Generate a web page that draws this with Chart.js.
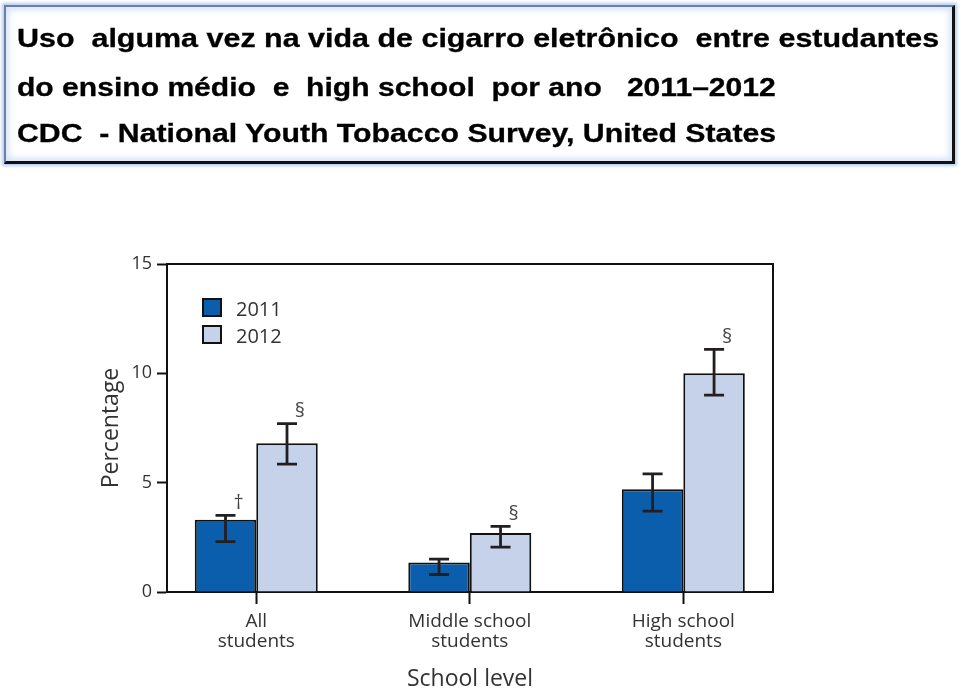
<!DOCTYPE html>
<html><head><meta charset="utf-8">
<script src="https://cdn.jsdelivr.net/npm/chart.js@4"></script>
<style>
html,body{margin:0;padding:0;background:#fff;width:960px;height:696px;overflow:hidden}
#wrap{position:relative;width:960px;height:696px}
#c{position:absolute;left:0;top:0}
#title{position:absolute;left:4px;top:5px;width:951px;height:159px;box-sizing:border-box;border-top:2px solid #6c7fa6;border-left:2px solid #6c7fa6;border-right:3px solid #111;border-bottom:3px solid #111;box-shadow:0 0 3px 2px #b7cdee, inset 0 0 6px 3px #d6e4f8;background:#fff;font-family:"Liberation Sans",Arial,sans-serif;font-weight:bold;font-size:25px;line-height:25px;color:#000;white-space:pre;-webkit-text-stroke:0.3px #000}
.l{position:absolute;left:11px;transform:scaleX(1.21);transform-origin:0 0}
</style>
</head><body>
<div id="wrap">
<canvas id="c" width="960" height="696"></canvas>
<div id="title"><div class="l" style="top:19px;transform:scaleX(1.218)">Uso  alguma vez na vida de cigarro eletrônico  entre estudantes</div><div class="l" style="top:68px;transform:scaleX(1.203)">do ensino médio  e  high school  por ano   2011–2012</div><div class="l" style="top:114px">CDC  - National Youth Tobacco Survey, United States</div></div>
</div>
<script>
const categories = [['All', 'students'], ['Middle school', 'students'], ['High school', 'students']];
const years = ['2011', '2012'];
const values2011 = [3.3, 1.35, 4.7];
const values2012 = [6.8, 2.7, 10.0];
const low2011 = [2.3, 0.8, 3.7];
const high2011 = [3.5, 1.5, 5.4];
const low2012 = [5.85, 2.05, 9.0];
const high2012 = [7.7, 3.0, 11.1];
const marks2011 = ['†', '', ''];
const marks2012 = ['§', '§', '§'];
const yTicks = [0, 5, 10, 15];

const colors = ['#0b5eab', '#c6d1ea'];
const lows = [low2011, low2012];
const highs = [high2011, high2012];
const marks = [marks2011, marks2012];
const TEXT = '#333';
const FONT = '"Open Sans", "Noto Sans", sans-serif';

function pts(vals) { return vals.map((v, i) => ({ x: i + 1, y: v })); }

const errorBars = {
  id: 'errorBars',
  afterDatasetsDraw(chart) {
    const ctx = chart.ctx;
    const ys = chart.scales.y;
    chart.data.datasets.forEach((ds, di) => {
      const meta = chart.getDatasetMeta(di);
      meta.data.forEach((bar, i) => {
        const x = bar.x;
        const yl = ys.getPixelForValue(lows[di][i]);
        const yh = ys.getPixelForValue(highs[di][i]);
        ctx.save();
        ctx.strokeStyle = '#231f20';
        ctx.lineWidth = 2.8;
        ctx.beginPath();
        ctx.moveTo(x, yl); ctx.lineTo(x, yh);
        ctx.moveTo(x - 10, yl); ctx.lineTo(x + 10, yl);
        ctx.moveTo(x - 10, yh); ctx.lineTo(x + 10, yh);
        ctx.stroke();
        const m = marks[di][i];
        if (m) {
          ctx.fillStyle = '#444';
          ctx.font = '20px ' + FONT;
          ctx.textAlign = 'center';
          ctx.textBaseline = 'middle';
          ctx.fillText(m, x + 13, yh - 12);
        }
        ctx.restore();
      });
    });
  }
};

const frame = {
  id: 'frame',
  afterDraw(chart) {
    const { ctx, chartArea: a } = chart;
    ctx.save();
    ctx.strokeStyle = '#111';
    ctx.lineWidth = 2;
    ctx.beginPath();
    ctx.moveTo(a.left, a.top); ctx.lineTo(a.right, a.top); ctx.lineTo(a.right, a.bottom);
    ctx.stroke();
    // legend
    ctx.font = '20px ' + FONT;
    ctx.textBaseline = 'alphabetic';
    ctx.textAlign = 'left';
    chart.data.datasets.forEach((ds, i) => {
      const bx = a.left + 36, by = a.top + 35 + i * 27;
      ctx.fillStyle = ds.backgroundColor;
      ctx.fillRect(bx, by, 18, 17);
      ctx.lineWidth = 2;
      ctx.strokeStyle = '#111';
      ctx.strokeRect(bx, by, 18, 17);
      ctx.fillStyle = TEXT;
      ctx.fillText(ds.label, a.left + 69, by + 17);
    });
    ctx.restore();
  }
};

new Chart(document.getElementById('c'), {
  type: 'bar',
  data: {
    datasets: years.map((yr, i) => ({
      label: yr,
      data: pts(i === 0 ? values2011 : values2012),
      backgroundColor: colors[i],
      borderColor: '#111',
      borderWidth: 2,
      categoryPercentage: 0.576,
      barPercentage: 1.0
    }))
  },
  options: {
    responsive: false,
    animation: false,
    devicePixelRatio: 1,
    layout: { padding: { left: 97, right: 187, top: 264, bottom: 0 } },
    plugins: { legend: { display: false }, tooltip: { enabled: false } },
    scales: {
      x: {
        type: 'linear',
        offset: false,
        min: 0.582, max: 3.42,
        afterBuildTicks(s) { s.ticks = [1, 2, 3].map(v => ({ value: v })); },
        afterFit(s) { s.height = 104; },
        grid: { offset: false, drawOnChartArea: false, drawTicks: true, tickLength: 12, tickWidth: 2, tickColor: '#111' },
        border: { display: true, color: '#111', width: 2 },
        ticks: {
          color: TEXT, font: { family: FONT, size: 19, lineHeight: 1.08 }, padding: 7,
          callback: (v) => categories[v - 1] || ''
        },
        title: { display: true, text: 'School level', color: TEXT, font: { family: FONT, size: 23 }, padding: { top: 0, bottom: 3 } }
      },
      y: {
        min: 0, max: 15,
        afterBuildTicks(s) { s.ticks = yTicks.map(v => ({ value: v })); },
        afterFit(s) { s.width = 70; },
        grid: { drawOnChartArea: false, drawTicks: true, tickLength: 10, tickWidth: 2, tickColor: '#111' },
        border: { display: true, color: '#111', width: 2 },
        ticks: { color: TEXT, font: { family: FONT, size: 18 }, padding: 5 },
        title: { display: true, text: 'Percentage', color: TEXT, font: { family: FONT, size: 23 }, padding: { top: 1, bottom: 0 } }
      }
    }
  },
  plugins: [errorBars, frame]
});
</script>
</body></html>
